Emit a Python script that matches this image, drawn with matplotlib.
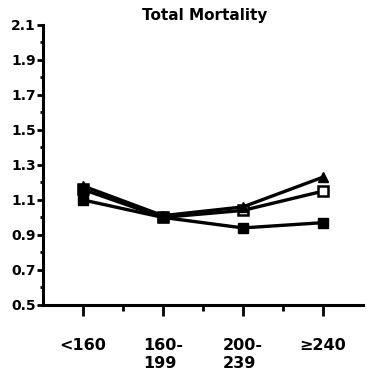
import matplotlib
matplotlib.use("Agg")
import matplotlib.pyplot as plt

categories = ["<160", "160-\n199", "200-\n239", "≥240"]
series_a = [1.10, 1.00, 0.94, 0.97]   # filled squares
series_b = [1.18, 1.01, 1.06, 1.23]   # triangles
series_c = [1.16, 1.00, 1.04, 1.15]   # open squares
yticks = [0.5, 0.7, 0.9, 1.1, 1.3, 1.5, 1.7, 1.9, 2.1]
title = "Total Mortality"

fig = plt.figure(figsize=(3.73, 3.84), dpi=100)
ax = fig.add_axes([0.115, 0.206, 0.858, 0.729])
x = list(range(len(categories)))

ax.plot(x, series_a, color="black", lw=2.4, marker="s", ms=7, mfc="black", mec="black")
ax.plot(x, series_c, color="black", lw=2.4, marker="s", ms=7, mfc="white", mec="black", mew=1.8)
ax.plot(x, series_b, color="black", lw=2.4, marker="^", ms=7, mfc="black", mec="black")
ax.plot([0, 1], [series_c[0], series_c[1]], color="black", lw=0, marker="s", ms=7, mfc="black", mec="black")

ax.set_xlim(-0.5, 3.5)
ax.set_ylim(0.5, 2.1)
ax.set_xticks(x)
ax.set_xticklabels(categories, fontsize=11.5, fontweight="bold", multialignment="left")
ax.set_xticks([0.5, 1.5, 2.5], minor=True)
ax.set_yticks(yticks)
ax.set_yticklabels([f"{v:.1f}" for v in yticks], fontsize=10, fontweight="bold")
ax.set_yticks([0.6, 0.8, 1.0, 1.2, 1.4, 1.6, 1.8, 2.0], minor=True)

ax.tick_params(axis="x", which="major", direction="out", length=8, width=2, pad=16)
ax.tick_params(axis="x", which="minor", direction="out", length=4, width=2)
ax.tick_params(axis="y", which="major", direction="out", length=4, width=2, pad=1)
ax.tick_params(axis="y", which="minor", direction="out", length=2, width=2)

for s in ["top", "right"]:
    ax.spines[s].set_visible(False)
for s in ["left", "bottom"]:
    ax.spines[s].set_linewidth(2.2)

fig.text(0.55, 0.96, title, ha="center", va="center", fontsize=11, fontweight="bold")

fig.savefig("out.png", dpi=100)
